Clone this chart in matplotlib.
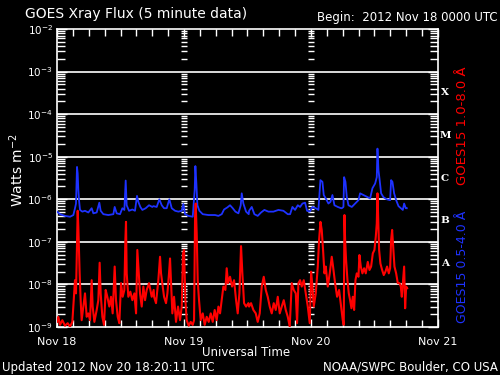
import numpy as np
import matplotlib
matplotlib.use("Agg")
import matplotlib.pyplot as plt
from matplotlib.ticker import FixedLocator, LogLocator, NullFormatter
import matplotlib.transforms as mtransforms

# ---------------- data (hours since 2012 Nov 18 00:00 UTC, log10 flux W m^-2) ----------------
blue_t = [0.00, 0.57, 1.51, 2.46, 3.09, 3.40, 3.59, 3.78, 3.91, 4.03, 4.16, 4.35, 4.79, 5.29, 5.92,
          6.55, 6.87, 7.50, 8.00, 8.25, 8.76, 9.70, 10.65, 10.90, 11.28, 11.91, 12.35, 12.73, 12.98,
          13.17, 13.61, 14.24, 14.74, 15.12, 15.37, 15.75, 16.13, 16.76, 17.39, 18.02,
          18.21, 18.84, 19.34, 19.79, 20.23, 20.73, 21.23, 21.68, 22.31, 22.94, 23.57, 23.88, 24.20,
          24.83, 25.65, 26.02, 26.15, 26.34, 26.53, 26.91, 27.54, 28.61, 29.87, 30.50, 31.13, 31.57,
          32.20, 32.70, 33.21, 33.71, 34.28, 34.72, 34.91, 35.22, 35.73, 36.23,
          36.30, 36.80, 37.30, 37.93, 38.56, 39.19, 39.95, 40.90, 41.84, 42.79, 43.61, 44.05, 44.49,
          44.99, 45.50, 45.94, 46.38, 46.88, 47.26, 47.76, 48.27, 48.90, 49.40, 49.78, 50.16, 50.41,
          50.79, 51.29, 51.67, 52.05, 52.43, 53.06, 53.69,
          53.82, 54.13, 54.26, 54.51, 54.76, 55.08, 55.71, 56.34, 56.97, 57.28, 57.91, 58.54, 59.17,
          59.61, 60.12, 60.43, 60.56, 60.75, 60.94, 61.25, 61.69, 62.32, 62.95, 63.14, 63.39, 63.71,
          64.09, 64.53, 64.97, 65.35, 65.60, 65.91, 66.10]
blue_log = [-6.29, -6.35, -6.39, -6.41, -6.37, -6.21, -6.10, -5.24, -5.39, -5.78, -6.02, -6.25, -6.29,
            -6.27, -6.31, -6.21, -6.33, -6.31, -6.08, -6.27, -6.35, -6.37, -6.35, -6.18, -6.33, -6.35,
            -6.21, -6.25, -5.56, -6.14, -6.27, -6.24, -6.27, -5.92, -6.06, -6.18, -6.25, -6.21, -6.14,
            -6.18,
            -6.16, -6.18, -6.00, -6.14, -6.21, -6.21, -6.00, -6.21, -6.27, -6.29, -6.27, -6.11, -6.35,
            -6.39, -6.41, -5.78, -5.22, -5.63, -6.14, -6.27, -6.35, -6.37, -6.37, -6.39, -6.35, -6.24,
            -6.19, -6.14, -6.21, -6.29, -6.33, -6.14, -5.86, -6.10, -6.29, -6.35,
            -6.27, -6.18, -6.35, -6.39, -6.31, -6.25, -6.29, -6.29, -6.25, -6.27, -6.35, -6.35, -6.18,
            -6.25, -6.14, -6.18, -6.10, -6.08, -6.27, -6.29, -6.18, -6.21, -6.25, -5.55, -5.59, -5.90,
            -5.98, -6.10, -6.06, -5.90, -6.14, -6.18, -6.21,
            -6.21, -6.18, -5.48, -5.59, -5.94, -6.14, -6.18, -6.10, -6.02, -5.86, -5.90, -5.94, -5.98,
            -5.74, -5.63, -5.48, -4.81, -5.32, -5.51, -5.86, -5.95, -6.00, -6.02, -5.55, -5.59, -5.86,
            -6.02, -6.16, -6.21, -6.25, -6.10, -6.21, -6.21]

red_t = [0.00, 0.25, 0.57, 1.01, 1.51, 2.02, 2.46, 2.90, 3.15, 3.40, 3.59, 3.78, 3.91, 4.03, 4.16,
         4.28, 4.47, 4.66, 4.98, 5.29, 5.61, 5.92, 6.24, 6.55, 6.74, 7.06, 7.50, 7.81, 8.06, 8.25,
         8.57, 8.88, 9.20, 9.51, 9.89, 10.21, 10.52, 10.90, 11.15, 11.47, 11.78, 12.10, 12.41, 12.73,
         12.92, 13.04, 13.17, 13.48, 13.86, 14.24, 14.62, 14.94, 15.18, 15.37, 15.69, 16.01, 16.32,
         16.64, 16.95, 17.39, 17.90, 18.27,
         18.34, 18.71, 19.15, 19.47, 19.66, 19.97, 20.23, 20.60, 20.86, 21.17, 21.36, 21.55, 21.80,
         22.12, 22.49, 22.87, 23.25, 23.57, 23.82, 24.01, 24.26, 24.51, 24.89, 25.27, 25.65, 25.90,
         26.09, 26.21, 26.40, 26.59, 26.84, 27.16, 27.54, 27.91, 28.29, 28.67, 29.05, 29.43, 29.80,
         30.18, 30.50, 30.81, 31.13, 31.44, 31.82, 32.07, 32.32, 32.70, 33.08, 33.46, 33.84, 34.15,
         34.47, 34.78, 35.03, 35.35, 35.73, 36.17,
         36.30, 36.67, 37.11, 37.56, 37.93, 38.31, 38.69, 39.07, 39.45, 39.82, 40.20, 40.58, 40.96,
         41.34, 41.72, 42.09, 42.47, 42.85, 43.23, 43.61, 43.98, 44.36, 44.74, 45.12, 45.37, 45.62,
         45.94, 46.25, 46.63, 47.01, 47.39, 47.76, 48.02, 48.27, 48.52, 48.90, 49.28, 49.53, 49.78,
         50.03, 50.28, 50.54, 50.79, 51.17, 51.54, 51.92, 52.17, 52.55, 52.93, 53.31, 53.69,
         54.00, 54.19, 54.32, 54.45, 54.63, 54.89, 55.14, 55.39, 55.64, 55.89, 56.15, 56.40, 56.65,
         56.97, 57.15, 57.41, 57.72, 58.04, 58.35, 58.73, 59.05, 59.36, 59.68, 59.99, 60.24, 60.43,
         60.56, 60.68, 60.87, 61.12, 61.44, 61.75, 62.07, 62.38, 62.70, 62.95, 63.14, 63.33, 63.52,
         63.77, 64.09, 64.40, 64.72, 64.97, 65.16, 65.41, 65.60, 65.79, 65.98, 66.17]
red_log = [-8.88, -8.76, -8.95, -8.84, -8.97, -8.91, -8.99, -8.88, -8.37, -7.90, -8.21, -7.11, -6.27,
           -6.65, -7.19, -7.74, -8.37, -8.84, -8.52, -8.21, -8.76, -8.68, -8.84, -7.90, -8.52, -8.88,
           -8.60, -8.37, -7.49, -8.21, -8.76, -8.95, -8.13, -8.29, -8.52, -8.29, -8.68, -7.58, -8.37,
           -8.76, -8.91, -7.97, -8.29, -8.13, -6.96, -6.53, -7.74, -8.29, -8.17, -8.37, -8.21, -8.68,
           -7.19, -7.58, -8.21, -8.52, -8.05, -8.37, -8.13, -7.97, -8.29, -8.13,
           -8.29, -8.44, -7.90, -7.35, -7.74, -8.05, -8.29, -8.44, -8.21, -7.74, -7.39, -7.97, -8.68,
           -8.29, -8.88, -8.52, -8.84, -8.52, -7.27, -7.19, -8.37, -8.84, -8.97, -8.88, -8.95, -8.84,
           -6.41, -6.10, -6.80, -7.90, -8.37, -8.84, -8.68, -8.95, -8.76, -8.88, -8.68, -8.88, -8.60,
           -8.84, -8.52, -8.68, -8.37, -8.05, -8.13, -7.62, -7.97, -7.82, -8.05, -7.90, -8.37, -8.68,
           -8.21, -7.10, -7.74, -8.44, -8.52, -8.44,
           -8.52, -8.44, -8.60, -8.68, -8.88, -8.68, -8.05, -7.82, -8.13, -8.29, -8.52, -8.68, -8.44,
           -8.60, -8.29, -8.68, -8.52, -8.37, -8.60, -8.76, -8.99, -7.97, -8.13, -8.21, -8.91, -7.97,
           -7.90, -8.05, -7.90, -8.21, -8.52, -8.91, -7.70, -8.05, -8.52, -8.21, -7.58, -6.96, -6.53,
           -6.72, -7.19, -7.74, -7.58, -8.05, -7.74, -7.35, -7.58, -7.97, -8.29, -8.13, -8.52,
           -8.84, -8.95, -6.37, -6.96, -7.43, -7.90, -8.21, -8.37, -8.56, -8.29, -8.60, -7.90, -7.74,
           -7.82, -7.31, -7.58, -7.74, -7.62, -7.74, -7.47, -7.66, -7.58, -7.27, -7.19, -6.88, -6.57,
           -5.86, -6.41, -7.19, -7.51, -7.66, -7.78, -7.70, -7.58, -7.74, -7.62, -6.96, -6.72, -7.11,
           -7.58, -7.74, -7.97, -7.97, -8.05, -8.29, -7.90, -7.58, -8.56, -8.05, -8.09]

day_ticks = [0, 24, 48, 72]
day_labels = ["Nov 18", "Nov 19", "Nov 20", "Nov 21"]
decades = [-9, -8, -7, -6, -5, -4, -3, -2]
classes = ["A", "B", "C", "M", "X"]
class_pos = [-7.5, -6.5, -5.5, -4.5, -3.5]

# ---------------- figure ----------------
W, H = 500, 375
fig = plt.figure(figsize=(5, 3.75), dpi=100, facecolor="black")
ax = fig.add_axes([57 / W, 1 - 327 / H, (438 - 57) / W, (327 - 29) / H], facecolor="black")

ax.set_yscale("log")
ax.set_ylim(1e-9, 1e-2)
ax.set_xlim(0, 72)

# decade grid lines
for d in decades[1:-1]:
    ax.axhline(10.0 ** d, color="white", lw=1.2, zorder=1)

# tick columns at day boundaries
minor_vals = [m * 10.0 ** d for d in decades[:-1] for m in range(2, 10)]
for xd in day_ticks[1:-1]:
    ax.plot([xd] * len(minor_vals), minor_vals, ls="none", marker="_", ms=4.5,
            mew=1.0, color="white", zorder=2)

ax.plot(blue_t, 10.0 ** np.array(blue_log), color="#1e32ff", lw=1.3, zorder=3)
ax.plot(red_t, 10.0 ** np.array(red_log), color="#ff0000", lw=1.5, zorder=4)

for s in ax.spines.values():
    s.set_color("white")
    s.set_linewidth(1.2)

ax.yaxis.set_major_locator(FixedLocator([10.0 ** d for d in decades]))
ax.yaxis.set_minor_locator(LogLocator(base=10, subs=np.arange(2, 10), numticks=20))
ax.yaxis.set_minor_formatter(NullFormatter())
ax.set_yticklabels([r"$10^{%d}$" % d for d in decades])
ax.xaxis.set_major_locator(FixedLocator(day_ticks))
ax.xaxis.set_minor_locator(FixedLocator(np.arange(0, 73, 3)))
ax.set_xticklabels(day_labels)

ax.tick_params(axis="both", which="both", direction="in", colors="white",
               top=True, right=True)
ax.tick_params(axis="y", which="major", length=7, width=1.0, pad=3, labelsize=7.5)
ax.tick_params(axis="y", which="minor", length=6, width=1.0)
ax.tick_params(axis="x", which="major", length=6, width=1.0, pad=7, labelsize=8)
ax.tick_params(axis="x", which="minor", length=5, width=1.0)
for lab in ax.get_yticklabels() + ax.get_xticklabels():
    lab.set_color("white")

# class letters on the right
trans = mtransforms.blended_transform_factory(ax.transAxes, ax.transData)
for c, p in zip(classes, class_pos):
    ax.text(1.018, 10.0 ** p, c, transform=trans, color="white", fontsize=7.5,
            fontweight="bold", family="DejaVu Serif", ha="center", va="center")

def fx(x):
    return x / W

def fy(y):
    return 1 - y / H

fig.text(fx(25), fy(14), "GOES Xray Flux (5 minute data)", color="white", fontsize=10,
         ha="left", va="center")
fig.text(fx(317), fy(17), "Begin:  2012 Nov 18 0000 UTC", color="white", fontsize=8.5,
         ha="left", va="center")
fig.text(fx(17), fy(170), r"Watts m$^{-2}$", color="white", fontsize=10, rotation=90,
         ha="center", va="center")
fig.text(fx(246), fy(353), "Universal Time", color="white", fontsize=8.5, ha="center", va="center")
fig.text(fx(2), fy(367), "Updated 2012 Nov 20 18:20:11 UTC", color="white", fontsize=8.5,
         ha="left", va="center")
fig.text(fx(498), fy(367), "NOAA/SWPC Boulder, CO USA", color="white", fontsize=8.5,
         ha="right", va="center")
fig.text(fx(462), fy(126), "GOES15 1.0-8.0 \u00c5", color="#ff0000", fontsize=9.5, rotation=90,
         ha="center", va="center")
fig.text(fx(462), fy(267), "GOES15 0.5-4.0 \u00c5", color="#1e32ff", fontsize=9, rotation=90,
         ha="center", va="center")

fig.savefig("out.png", dpi=100, facecolor="black")
